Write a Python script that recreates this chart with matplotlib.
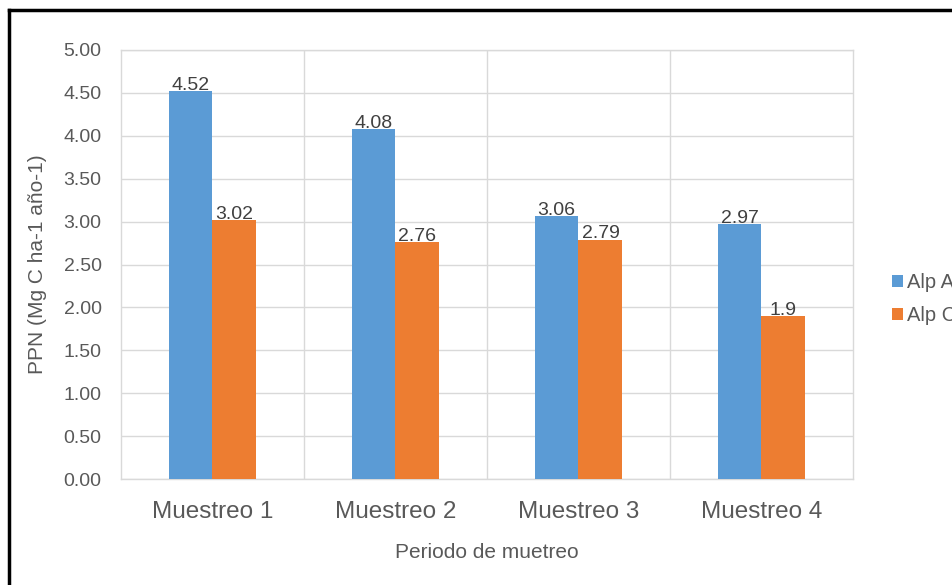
import matplotlib.pyplot as plt
import numpy as np

plt.rcParams['font.family'] = ['Liberation Sans', 'DejaVu Sans']

categories = ['Muestreo 1', 'Muestreo 2', 'Muestreo 3', 'Muestreo 4']
alp_a = [4.52, 4.08, 3.06, 2.97]
alp_c = [3.02, 2.76, 2.79, 1.9]
labels_a = ['4.52', '4.08', '3.06', '2.97']
labels_c = ['3.02', '2.76', '2.79', '1.9']

blue = '#5B9BD5'
orange = '#ED7D31'
grid_col = '#D9D9D9'
text_col = '#595959'

fig = plt.figure(figsize=(9.53, 5.85), dpi=100)
ax = fig.add_axes([121 / 953, 1 - 479 / 585, 732 / 953, 429 / 585])

x = np.arange(len(categories))
w = 0.24
bars_a = ax.bar(x - w / 2, alp_a, w, color=blue, label='Alp A', zorder=3)
bars_c = ax.bar(x + w / 2, alp_c, w, color=orange, label='Alp C', zorder=3)

for bars, texts in ((bars_a, labels_a), (bars_c, labels_c)):
    for bar, txt in zip(bars, texts):
        ax.annotate(txt, (bar.get_x() + bar.get_width() / 2, bar.get_height()),
                    textcoords='offset points', xytext=(0, -2), ha='center', va='bottom',
                    fontsize=14, color='#404040', zorder=4)

ax.set_xlim(-0.5, len(categories) - 0.5)
ax.set_ylim(0, 5)
ax.set_yticks(np.arange(0, 5.01, 0.5))
ax.set_yticklabels([f'{v:.2f}' for v in np.arange(0, 5.01, 0.5)])
ax.set_xticks(x)
ax.set_xticklabels(categories)
ax.tick_params(axis='y', length=0, labelsize=14, labelcolor=text_col, pad=14)
ax.tick_params(axis='x', length=0, labelsize=17.5, labelcolor=text_col, pad=16)

ax.yaxis.grid(True, color=grid_col, linewidth=1, zorder=0)
for b in np.arange(0.5, len(categories) - 0.5):
    ax.axvline(b, color=grid_col, linewidth=1, zorder=0)
for s in ax.spines.values():
    s.set_color(grid_col)
    s.set_linewidth(1)

ax.set_ylabel('PPN (Mg C ha-1 año-1)', fontsize=15, color=text_col, labelpad=12)
ax.set_xlabel('Periodo de muetreo', fontsize=15, color=text_col, labelpad=14)

fig.legend(handles=[bars_a, bars_c], labels=['Alp A', 'Alp C'],
           loc='upper left', bbox_to_anchor=(892 / 953, 1 - 273 / 585),
           frameon=False, fontsize=14.5, labelcolor=text_col,
           handlelength=0.55, handleheight=0.55, handletextpad=0.2,
           labelspacing=0.7, borderpad=0, borderaxespad=0)

# outer frame, only top and left edges fall inside the canvas
fig.add_artist(plt.Line2D([9 / 953, 1], [1 - 10 / 585, 1 - 10 / 585],
                          color='black', linewidth=2.5, transform=fig.transFigure))
fig.add_artist(plt.Line2D([9 / 953, 9 / 953], [0, 1 - 10 / 585],
                          color='black', linewidth=2.5, transform=fig.transFigure))

fig.savefig('out.png', dpi=100)
